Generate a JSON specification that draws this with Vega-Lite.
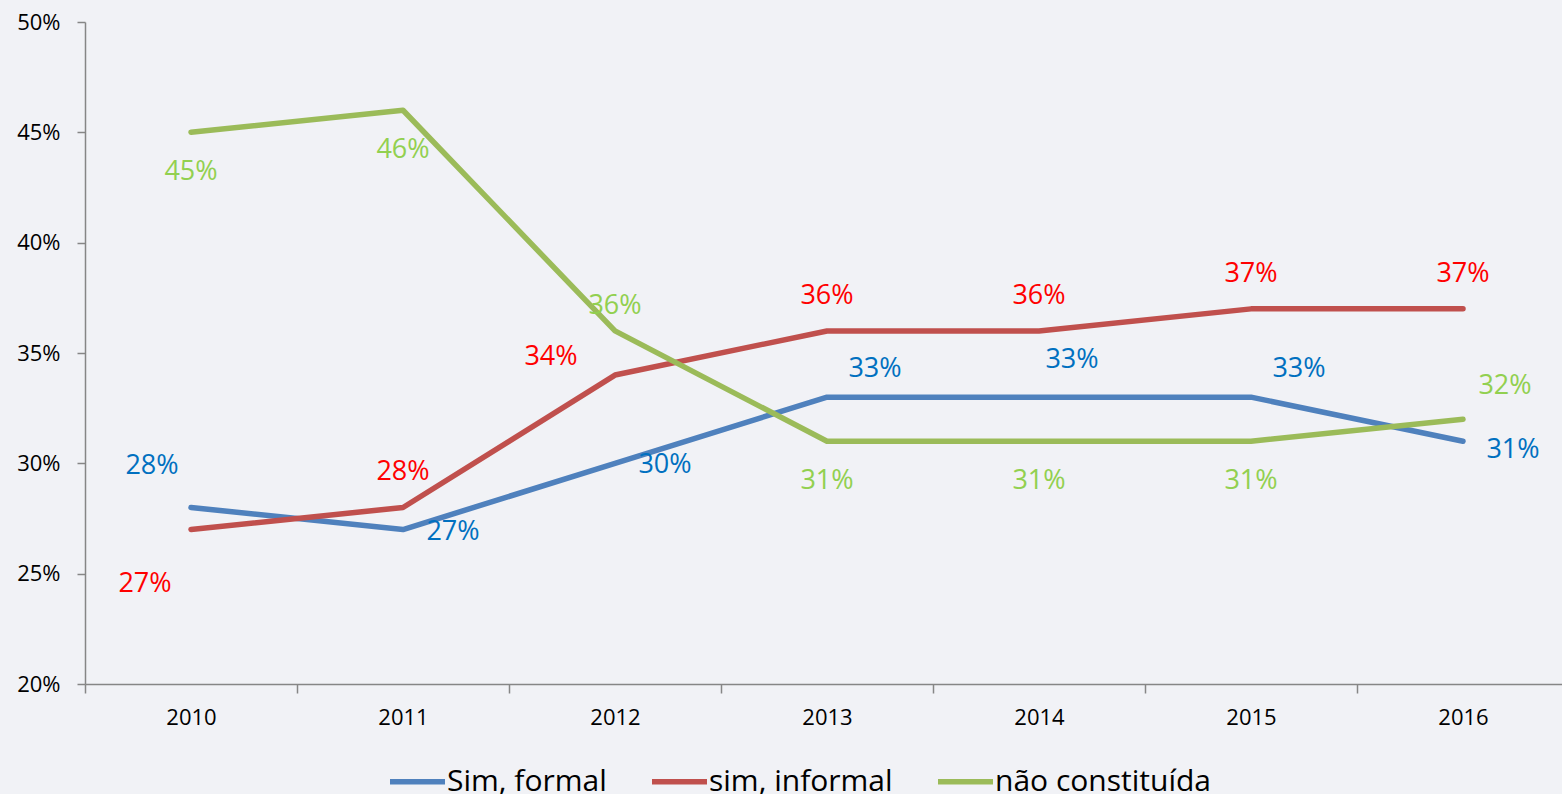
{
  "$schema": "https://vega.github.io/schema/vega-lite/v6.json",
  "autosize": {"type": "none"},
  "padding": {"left": 85, "top": 22, "right": -7, "bottom": 110},
  "width": 1484,
  "height": 662,
  "background": "#f1f2f6",
  "config": {
    "view": {"stroke": null},
    "font": "Open Sans",
    "axis": {"grid": false, "domainColor": "#868686", "tickColor": "#868686", "domainWidth": 1.5, "tickWidth": 1.5, "labelColor": "#000000", "labelFont": "Open Sans", "labelFontSize": 22}
  },
  "data": {
    "values": [
      {"year": "2010", "series": "Sim, formal", "value": 0.28},
      {"year": "2011", "series": "Sim, formal", "value": 0.27},
      {"year": "2012", "series": "Sim, formal", "value": 0.30},
      {"year": "2013", "series": "Sim, formal", "value": 0.33},
      {"year": "2014", "series": "Sim, formal", "value": 0.33},
      {"year": "2015", "series": "Sim, formal", "value": 0.33},
      {"year": "2016", "series": "Sim, formal", "value": 0.31},
      {"year": "2010", "series": "sim, informal", "value": 0.27},
      {"year": "2011", "series": "sim, informal", "value": 0.28},
      {"year": "2012", "series": "sim, informal", "value": 0.34},
      {"year": "2013", "series": "sim, informal", "value": 0.36},
      {"year": "2014", "series": "sim, informal", "value": 0.36},
      {"year": "2015", "series": "sim, informal", "value": 0.37},
      {"year": "2016", "series": "sim, informal", "value": 0.37},
      {"year": "2010", "series": "não constituída", "value": 0.45},
      {"year": "2011", "series": "não constituída", "value": 0.46},
      {"year": "2012", "series": "não constituída", "value": 0.36},
      {"year": "2013", "series": "não constituída", "value": 0.31},
      {"year": "2014", "series": "não constituída", "value": 0.31},
      {"year": "2015", "series": "não constituída", "value": 0.31},
      {"year": "2016", "series": "não constituída", "value": 0.32}
    ]
  },
  "encoding": {
    "x": {
      "field": "year", "type": "ordinal",
      "scale": {"type": "band", "paddingInner": 0, "paddingOuter": 0},
      "axis": {"title": null, "labelAngle": 0, "tickBand": "extent", "tickSize": 9, "labelPadding": 14}
    },
    "y": {
      "field": "value", "type": "quantitative",
      "scale": {"domain": [0.2, 0.5], "nice": false, "zero": false},
      "axis": {"title": null, "format": ".0%", "values": [0.2, 0.25, 0.3, 0.35, 0.4, 0.45, 0.5], "tickSize": 8, "labelPadding": 17}
    }
  },
  "layer": [
    {
      "mark": {"type": "line", "strokeWidth": 5.5, "strokeCap": "round", "strokeJoin": "round"},
      "encoding": {
        "color": {
          "field": "series", "type": "nominal",
          "scale": {"domain": ["Sim, formal", "sim, informal", "não constituída"], "range": ["#4f81bd", "#c0504d", "#9bbb59"]},
          "legend": {
            "title": null, "orient": "none", "direction": "horizontal",
            "legendX": 302, "legendY": 729,
            "symbolType": "stroke", "symbolSize": 3025, "symbolStrokeWidth": 5.5,
            "labelFontSize": 30, "labelFont": "Open Sans", "labelColor": "#000000",
            "labelOffset": -1, "columnPadding": 34, "labelLimit": 400
          }
        }
      }
    },
    {
      "transform": [{"filter": "datum.series == 'não constituída' && indexof(['2010','2011','2013','2014','2015'], datum.year) >= 0"}],
      "mark": {"type": "text", "fontSize": 27, "color": "#92d050", "dy": 40},
      "encoding": {"text": {"field": "value", "format": ".0%"}}
    },
    {
      "transform": [{"filter": "datum.series == 'não constituída' && datum.year == '2012'"}],
      "mark": {"type": "text", "fontSize": 27, "color": "#92d050", "dy": -25},
      "encoding": {"text": {"field": "value", "format": ".0%"}}
    },
    {
      "transform": [{"filter": "datum.series == 'não constituída' && datum.year == '2016'"}],
      "mark": {"type": "text", "fontSize": 27, "color": "#92d050", "dx": 42, "dy": -33},
      "encoding": {"text": {"field": "value", "format": ".0%"}}
    },
    {
      "transform": [{"filter": "datum.series == 'sim, informal' && indexof(['2011','2013','2014','2015','2016'], datum.year) >= 0"}],
      "mark": {"type": "text", "fontSize": 27, "color": "#ff0000", "dy": -35},
      "encoding": {"text": {"field": "value", "format": ".0%"}}
    },
    {
      "transform": [{"filter": "datum.series == 'sim, informal' && datum.year == '2010'"}],
      "mark": {"type": "text", "fontSize": 27, "color": "#ff0000", "dx": -46, "dy": 54},
      "encoding": {"text": {"field": "value", "format": ".0%"}}
    },
    {
      "transform": [{"filter": "datum.series == 'sim, informal' && datum.year == '2012'"}],
      "mark": {"type": "text", "fontSize": 27, "color": "#ff0000", "dx": -64, "dy": -18},
      "encoding": {"text": {"field": "value", "format": ".0%"}}
    },
    {
      "transform": [{"filter": "datum.series == 'Sim, formal' && indexof(['2011','2012'], datum.year) >= 0"}],
      "mark": {"type": "text", "fontSize": 27, "color": "#0070c0", "dx": 50, "dy": 2},
      "encoding": {"text": {"field": "value", "format": ".0%"}}
    },
    {
      "transform": [{"filter": "datum.series == 'Sim, formal' && datum.year == '2016'"}],
      "mark": {"type": "text", "fontSize": 27, "color": "#0070c0", "dx": 50, "dy": 9},
      "encoding": {"text": {"field": "value", "format": ".0%"}}
    },
    {
      "transform": [{"filter": "datum.series == 'Sim, formal' && indexof(['2013','2015'], datum.year) >= 0"}],
      "mark": {"type": "text", "fontSize": 27, "color": "#0070c0", "dx": 48, "dy": -28},
      "encoding": {"text": {"field": "value", "format": ".0%"}}
    },
    {
      "transform": [{"filter": "datum.series == 'Sim, formal' && datum.year == '2014'"}],
      "mark": {"type": "text", "fontSize": 27, "color": "#0070c0", "dx": 33, "dy": -37},
      "encoding": {"text": {"field": "value", "format": ".0%"}}
    },
    {
      "transform": [{"filter": "datum.series == 'Sim, formal' && datum.year == '2010'"}],
      "mark": {"type": "text", "fontSize": 27, "color": "#0070c0", "dx": -39, "dy": -41},
      "encoding": {"text": {"field": "value", "format": ".0%"}}
    }
  ]
}
